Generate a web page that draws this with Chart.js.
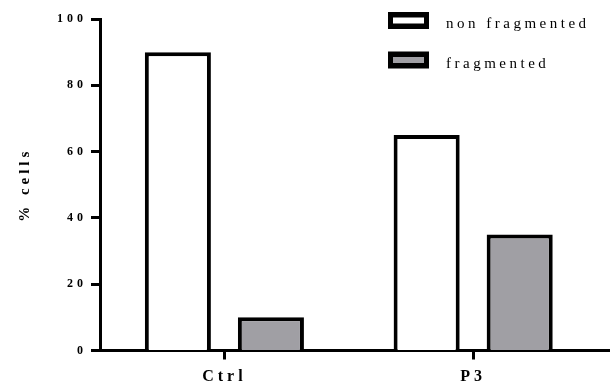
<!DOCTYPE html>
<html>
<head>
<meta charset="utf-8">
<script src="https://cdn.jsdelivr.net/npm/chart.js@4/dist/chart.umd.min.js"></script>
<style>
    html, body { margin: 0; padding: 0; background: #ffffff; }
    #wrap { width: 610px; height: 390px; }
</style>
</head>
<body>
<div id="wrap"><canvas id="chart"></canvas></div>
<script>
// Datos
const categories = ['Ctrl', 'P3'];
const seriesNames = ['non fragmented', 'fragmented'];
const nonFragmented = [90, 65];
const fragmented = [10, 35];
const yTicks = [0, 20, 40, 60, 80, 100];

Chart.defaults.color = '#000000';
Chart.defaults.font.family = "'Liberation Serif', 'DejaVu Serif', serif";

// Espaciado de letras tipo Prism
const spacingPlugin = {
    id: 'spacing',
    beforeDraw(chart) {
        chart.ctx.letterSpacing = '4px';
    }
};

// Leyenda dibujada a mano en la esquina superior derecha
const boxLegend = {
    id: 'boxLegend',
    afterDraw(chart) {
        const ctx = chart.ctx;
        const rows = [12, 51.5];
        ctx.save();
        chart.data.datasets.forEach((ds, i) => {
            const y = rows[i];
            ctx.fillStyle = ds.borderColor;
            ctx.fillRect(388, y, 41, 17);
            ctx.fillStyle = ds.backgroundColor;
            ctx.fillRect(393, y + 5.5, 31, 6);
            ctx.fillStyle = '#000000';
            ctx.font = "15px 'Liberation Serif', serif";
            ctx.letterSpacing = '3.5px';
            ctx.textAlign = 'left';
            ctx.textBaseline = 'alphabetic';
            ctx.fillText(ds.label, 446, y + 16);
        });
        ctx.restore();
    }
};

const toPoints = vals => vals.map((v, i) => ({ x: i, y: v }));

new Chart(document.getElementById('chart'), {
    type: 'bar',
    data: {
        datasets: [{
            label: seriesNames[0],
            data: toPoints(nonFragmented),
            backgroundColor: '#ffffff',
            borderColor: '#000000',
            borderWidth: 4,
            borderSkipped: 'start'
        }, {
            label: seriesNames[1],
            data: toPoints(fragmented),
            backgroundColor: '#a09fa4',
            borderColor: '#000000',
            borderWidth: 4,
            borderSkipped: 'start'
        }]
    },
    options: {
        responsive: true,
        maintainAspectRatio: false,
        animation: false,
        categoryPercentage: 0.748,
        barPercentage: 0.71,
        layout: { padding: { top: 19, left: 0, right: 0, bottom: 0 } },
        plugins: {
            legend: { display: false },
            tooltip: { enabled: false }
        },
        scales: {
            x: {
                type: 'linear',
                offset: false,
                bounds: 'data',
                min: -0.5,
                max: 1.55,
                afterBuildTicks: scale => {
                    scale.ticks = categories.map((c, i) => ({ value: i }));
                },
                afterFit: scale => { scale.height = 39.5; },
                grid: {
                    offset: false,
                    drawOnChartArea: false,
                    tickLength: 9,
                    tickWidth: 3,
                    tickColor: '#000000'
                },
                border: { color: '#000000', width: 3 },
                ticks: {
                    padding: 8,
                    font: { size: 16, weight: 'bold' },
                    callback: value => categories[value]
                }
            },
            y: {
                min: 0,
                max: 100,
                afterBuildTicks: scale => {
                    scale.ticks = yTicks.map(v => ({ value: v }));
                },
                afterFit: scale => { scale.width = 100; },
                grid: {
                    drawOnChartArea: false,
                    tickLength: 9,
                    tickWidth: 3,
                    tickColor: '#000000'
                },
                border: { color: '#000000', width: 3 },
                ticks: {
                    padding: 4,
                    font: { size: 12, weight: 'bold' }
                },
                title: {
                    display: true,
                    text: '% cells',
                    font: { size: 15, weight: 'bold' },
                    padding: { top: 16, bottom: 0 }
                }
            }
        }
    },
    plugins: [spacingPlugin, boxLegend]
});
</script>
</body>
</html>
